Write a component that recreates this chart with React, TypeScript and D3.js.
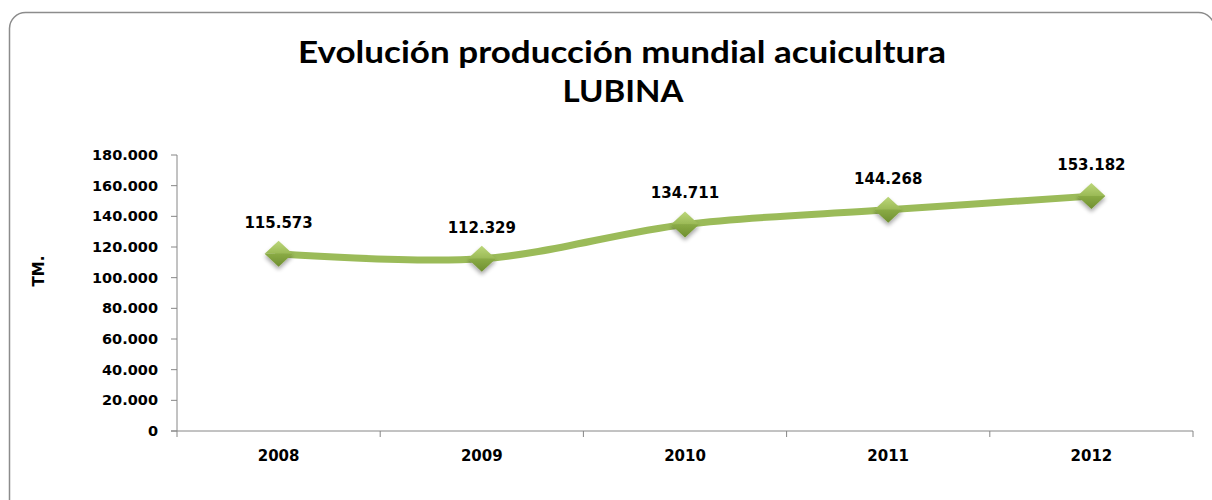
import React from "react";
import * as d3 from "d3";

const years = ["2008", "2009", "2010", "2011", "2012"];
const values = [115573, 112329, 134711, 144268, 153182];
const yTicks = [0, 20000, 40000, 60000, 80000, 100000, 120000, 140000, 160000, 180000];
const titleLines = ["Evolución producción mundial acuicultura", "LUBINA"];
const yAxisTitle = "TM.";

const fmt = (v: number) => {
  const s = Math.round(v).toString();
  return s.replace(/\B(?=(\d{3})+(?!\d))/g, ".");
};

export default function App() {
  const W = 1212, H = 500;
  const left = 177, right = 1193, top = 155, bottom = 431;
  const x = d3.scaleBand<string>().domain(years).range([left, right]).padding(0);
  const y = d3.scaleLinear().domain([0, 180000]).range([bottom, top]);
  const pts: [number, number][] = years.map((yr, i) => [x(yr)! + x.bandwidth() / 2, y(values[i])]);
  const line = d3.line().curve(d3.curveCatmullRom.alpha(0.5))(pts) || "";
  const boundaries = d3.range(years.length + 1).map(i => left + i * x.bandwidth());
  const axisColor = "#868686";
  const font = "'DejaVu Sans', Verdana, sans-serif";
  const titleFont = "Lato, 'Open Sans', sans-serif";
  const mw = 14, mh = 13;
  return (
    <svg width={W} height={H} style={{ position: "absolute", left: 0, top: 0 }}>
      <defs>
        <linearGradient id="mTop" x1="0" y1="0" x2="0" y2="1">
          <stop offset="0" stopColor="#bcd77a" />
          <stop offset="1" stopColor="#9ab955" />
        </linearGradient>
        <linearGradient id="mBot" x1="0" y1="0" x2="0" y2="1">
          <stop offset="0" stopColor="#8aab45" />
          <stop offset="1" stopColor="#6f8f30" />
        </linearGradient>
        <filter id="sh" x="-50%" y="-50%" width="200%" height="200%">
          <feGaussianBlur in="SourceAlpha" stdDeviation="2" />
          <feOffset dx="0" dy="3" result="b" />
          <feComponentTransfer><feFuncA type="linear" slope="0.35" /></feComponentTransfer>
          <feMerge><feMergeNode /><feMergeNode in="SourceGraphic" /></feMerge>
        </filter>
      </defs>
      <rect x={0} y={0} width={W} height={H} fill="#fff" />
      <rect x={9.5} y={12.5} width={1205} height={520} rx={16} fill="#fff" stroke="#8c8c8c" strokeWidth={1.5} />
      <text x={622} y={63} textAnchor="middle" fontFamily={titleFont} fontWeight="bold" fontSize={31} fill="#000" textLength={648} lengthAdjust="spacingAndGlyphs">{titleLines[0]}</text>
      <text x={623} y={102} textAnchor="middle" fontFamily={titleFont} fontWeight="bold" fontSize={31} fill="#000" textLength={121} lengthAdjust="spacingAndGlyphs">{titleLines[1]}</text>
      <text transform={`translate(44,271) rotate(-90)`} textAnchor="middle" fontFamily={font} fontWeight="bold" fontSize={15} fill="#000">{yAxisTitle}</text>
      <line x1={left} x2={left} y1={top} y2={bottom} stroke={axisColor} strokeWidth={1} />
      {yTicks.map(t => (
        <g key={t}>
          <line x1={left - 6} x2={left} y1={y(t)} y2={y(t)} stroke={axisColor} />
          <text x={158} y={y(t) + 5} textAnchor="end" fontFamily={font} fontWeight="bold" fontSize={14.5} fill="#000">{fmt(t)}</text>
        </g>
      ))}
      <line x1={left - 6} x2={right} y1={bottom} y2={bottom} stroke={axisColor} />
      {boundaries.map((b, i) => (
        <line key={i} x1={b} x2={b} y1={bottom} y2={bottom + 6} stroke={axisColor} />
      ))}
      {years.map(yr => (
        <text key={yr} x={x(yr)! + x.bandwidth() / 2} y={461} textAnchor="middle" fontFamily={font} fontWeight="bold" fontSize={15} fill="#000">{yr}</text>
      ))}
      <path d={line} fill="none" stroke="#9bbb59" strokeWidth={7} strokeLinecap="round" />
      {pts.map(([px, py], i) => (
        <g key={i} filter="url(#sh)">
          <path d={`M${px - mw},${py} L${px},${py - mh} L${px + mw},${py} Z`} fill="url(#mTop)" />
          <path d={`M${px - mw},${py} L${px + mw},${py} L${px},${py + mh} Z`} fill="url(#mBot)" />
        </g>
      ))}
      {pts.map(([px, py], i) => (
        <text key={"l" + i} x={px} y={py - 26} textAnchor="middle" fontFamily={font} fontWeight="bold" fontSize={15} fill="#000">{fmt(values[i])}</text>
      ))}
    </svg>
  );
}
